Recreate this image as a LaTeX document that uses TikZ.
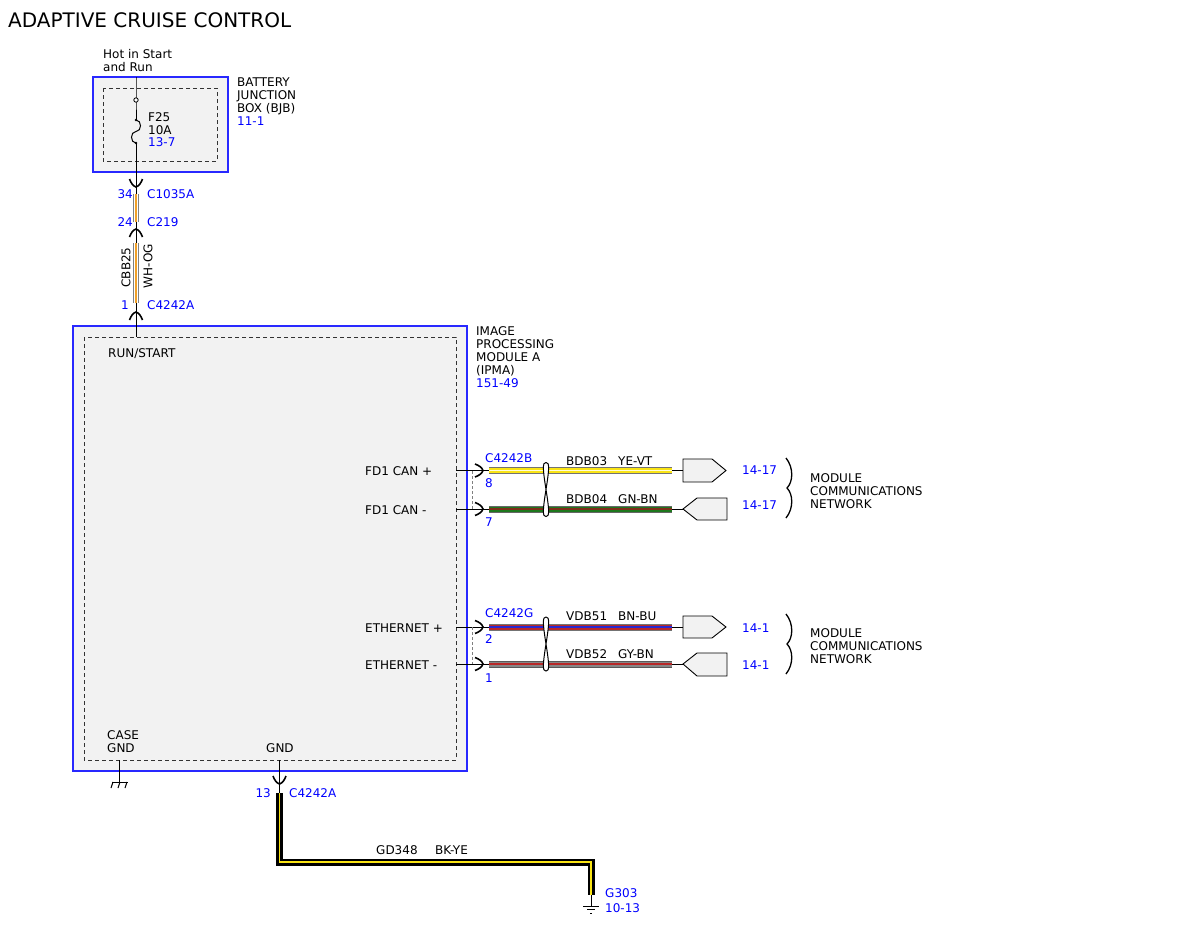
\documentclass[tikz,border=0pt]{standalone}
\usepackage{fontspec}
\setmainfont{DejaVu Sans}
\definecolor{pinblue}{RGB}{0,0,255}
\definecolor{boxblue}{RGB}{40,40,255}
\definecolor{boxfill}{RGB}{242,242,242}
\definecolor{wyellow}{RGB}{250,228,20}
\definecolor{wgreen}{RGB}{30,120,30}
\definecolor{wbrown}{RGB}{125,45,25}
\definecolor{wred}{RGB}{185,40,40}
\definecolor{wblue}{RGB}{40,40,210}
\definecolor{wgray}{RGB}{135,135,135}
\definecolor{worange}{RGB}{240,160,40}
\tikzset{
 modbox/.style={draw=boxblue,line width=1.2pt,fill=boxfill},
 inbox/.style={draw=black!80,line width=1pt,dash pattern=on 4pt off 3pt},
 lbl/.style={anchor=north west,inner sep=0pt,align=left},
 txt/.style={anchor=base west,inner sep=0pt},
 pin/.style={anchor=base west,inner sep=0pt,text=pinblue},
 wire/.style n args={3}{preaction={draw=#1,line width=7pt},draw=#2,line width=5pt,postaction={draw=#3,line width=1.8pt}},
 thinwire/.style n args={3}{preaction={draw=#1,line width=6pt},draw=#2,line width=4.4pt,postaction={draw=#3,line width=1.6pt}},
 conn/.style={draw=black,line width=0.9pt,fill=boxfill},
 pinfork/.pic={\draw[line width=1.6pt] (-8,-6.5) .. controls (-4,-5) and (-1,-3) .. (0,0) .. controls (-1,3) and (-4,5) .. (-8,6.5);},
 twist/.pic={\draw[line width=1pt,fill=white] (0,-27) .. controls (3.5,-27) and (3.5,-22) .. (0,0) .. controls (-3.5,22) and (-3.5,27) .. (0,27) .. controls (3.5,27) and (3.5,22) .. (0,0) .. controls (-3.5,-22) and (-3.5,-27) .. (0,-27);},
}
\begin{document}
\begin{tikzpicture}[x=1pt,y=-1pt,font=\fontsize{12}{13}\selectfont]
 \useasboundingbox (0,0) rectangle (1200,927);
 \node[txt,font=\fontsize{20}{24}\selectfont] (title) at (8,27) {ADAPTIVE CRUISE CONTROL};

 % battery junction box
 \draw[modbox] (93,77) rectangle (228,172);
 \draw[inbox] (103,88) rectangle (217,161);
 \node[lbl] (hot) at (103,49) {Hot in Start\\and Run};
 \node[lbl] (bjb) at (237,77.5) {BATTERY\\JUNCTION\\BOX (BJB)\\\textcolor{pinblue}{11-1}};
 \node[lbl,font=\fontsize{12}{12.5}\selectfont] (f25) at (148,112.5) {F25\\10A\\\textcolor{pinblue}{13-7}};
 \coordinate (bjbin) at (136,77);
 \coordinate (fusea) at (136,100);
 \coordinate (fuseb) at (136,120);
 \coordinate (fusec) at (136,143);
 \draw[line width=1pt] (bjbin) -- (fusea) -- (fuseb);
 \draw[line width=1pt] (fuseb) .. controls (142,120) and (142,131.5) .. (136,131.5) .. controls (130,131.5) and (130,143) .. (fusec);
 \draw[line width=0.8pt,fill=white] (fusea) circle (2.2);
 \fill (fuseb) circle (1.3);
 \fill (fusec) circle (1.3);

 % IPMA module
 \draw[modbox] (73,326) rectangle (467,771);
 \draw[inbox] (84,337) rectangle (456,760);
 \node[lbl] (ipma) at (476,326.5) {IMAGE\\PROCESSING\\MODULE A\\(IPMA)\\\textcolor{pinblue}{151-49}};
 \node[txt] (runstart) at (108,357) {RUN/START};
 \node[lbl] (casegnd) at (107,730) {CASE\\GND};
 \node[txt] (gnd) at (266,752) {GND};

 % feed from BJB
 \coordinate (runpin) at (136,337);
 \draw[line width=1pt] (fusec) -- (runpin);
 \coordinate (w1a) at (136,194);
 \coordinate (w1b) at (136,222);
 \coordinate (w2a) at (136,243);
 \coordinate (w2b) at (136,303);
 \draw[thinwire={gray}{white}{worange}] (w1a) -- (w1b);
 \draw[thinwire={gray}{white}{worange}] (w2a) -- (w2b);
 \pic[rotate=-90] at (136,187) {pinfork};
 \pic[rotate=90] at (136,229) {pinfork};
 \pic[rotate=90] at (136,312) {pinfork};
 \node[anchor=base east,inner sep=0pt,text=pinblue] (p34) at (133,198) {34};
 \node[pin] (c1035a) at (147,198) {C1035A};
 \node[anchor=base east,inner sep=0pt,text=pinblue] (p24) at (133,226) {24};
 \node[pin] (c219) at (147,226) {C219};
 \node[anchor=base east,inner sep=0pt,text=pinblue] (p1a) at (129,309) {1};
 \node[pin] (c4242a) at (147,309) {C4242A};
 \node[rotate=90,inner sep=0pt] (cbb25) at (126,267.5) {CBB25};
 \node[rotate=90,inner sep=0pt] (whog) at (148,266) {WH-OG};

 % FD1 CAN
 \node[txt] (canp) at (365,475) {FD1 CAN +};
 \node[txt] (canm) at (365,514) {FD1 CAN -};
 \coordinate (canpi) at (456,470.5);
 \coordinate (canpa) at (489,470.5);
 \coordinate (canpb) at (672,470.5);
 \coordinate (canmi) at (456,509);
 \coordinate (canma) at (489,509);
 \coordinate (canmb) at (672,509);
 \draw[line width=1pt] (canpi) -- (canpa);
 \draw[line width=1pt] (canmi) -- (canma);
 \draw[gray,line width=0.8pt,dash pattern=on 3pt off 2pt] (472,471) -- (472,509);
 \draw[wire={black!55}{wyellow}{yellow!15}] (canpa) -- (canpb);
 \draw[wire={black!60}{wgreen}{wbrown}] (canma) -- (canmb);
 \pic at (483,470.5) {pinfork};
 \pic at (483,509) {pinfork};
 \pic at (546,489.5) {twist};
 \draw[conn] (683,459) -- (712,459) -- (726,470.5) -- (712,482) -- (683,482) -- cycle;
 \draw[conn] (683,509) -- (697,498) -- (727,498) -- (727,520) -- (697,520) -- cycle;
 \draw[line width=1pt] (canpb) -- (683,470.5);
 \draw[line width=1pt] (canmb) -- (683,509);
 \node[pin] (c4242b) at (485,462) {C4242B};
 \node[pin] (p8) at (485,487) {8};
 \node[pin] (p7) at (485,526) {7};
 \node[txt] (bdb03) at (566,465) {BDB03};
 \node[txt] (yevt) at (618,465) {YE-VT};
 \node[txt] (bdb04) at (566,503) {BDB04};
 \node[txt] (gnbn) at (618,503) {GN-BN};
 \node[pin] (ref1) at (742,474) {14-17};
 \node[pin] (ref2) at (742,509) {14-17};
 \draw[line width=1.3pt] (786,458) .. controls (794,468) and (793,482) .. (787,488) .. controls (793,494) and (794,508) .. (786,518);
 \node[lbl] (mcn1) at (810,473) {MODULE\\COMMUNICATIONS\\NETWORK};

 % ethernet
 \node[txt] (ethp) at (365,632) {ETHERNET +};
 \node[txt] (ethm) at (365,669) {ETHERNET -};
 \coordinate (ethpi) at (456,627);
 \coordinate (ethpa) at (489,627);
 \coordinate (ethpb) at (672,627);
 \coordinate (ethmi) at (456,664);
 \coordinate (ethma) at (489,664);
 \coordinate (ethmb) at (672,664);
 \draw[line width=1pt] (ethpi) -- (ethpa);
 \draw[line width=1pt] (ethmi) -- (ethma);
 \draw[gray,line width=0.8pt,dash pattern=on 3pt off 2pt] (472,627) -- (472,664);
 \draw[wire={black!55}{wred}{wblue}] (ethpa) -- (ethpb);
 \draw[wire={black!65}{wgray}{wred}] (ethma) -- (ethmb);
 \pic at (483,627) {pinfork};
 \pic at (483,664) {pinfork};
 \pic at (546,644) {twist};
 \draw[conn] (683,616) -- (712,616) -- (726,627) -- (712,638) -- (683,638) -- cycle;
 \draw[conn] (683,664) -- (697,653) -- (727,653) -- (727,676) -- (697,676) -- cycle;
 \draw[line width=1pt] (ethpb) -- (683,627);
 \draw[line width=1pt] (ethmb) -- (683,664);
 \node[pin] (c4242g) at (485,617) {C4242G};
 \node[pin] (p2) at (485,643) {2};
 \node[pin] (p1b) at (485,682) {1};
 \node[txt] (vdb51) at (566,620) {VDB51};
 \node[txt] (bnbu) at (618,620) {BN-BU};
 \node[txt] (vdb52) at (566,658) {VDB52};
 \node[txt] (gybn) at (618,658) {GY-BN};
 \node[pin] (ref3) at (742,632) {14-1};
 \node[pin] (ref4) at (742,669) {14-1};
 \draw[line width=1.3pt] (786,614) .. controls (794,624) and (793,638) .. (787,644) .. controls (793,650) and (794,664) .. (786,674);
 \node[lbl] (mcn2) at (810,628) {MODULE\\COMMUNICATIONS\\NETWORK};

 % case ground
 \coordinate (casepin) at (119,760);
 \coordinate (chassis) at (119,782);
 \draw[line width=1pt] (casepin) -- (chassis);
 \draw[line width=1pt] (112,782) -- (128,782);
 \draw[line width=1pt] (113,782) -- (111,788);
 \draw[line width=1pt] (120,782) -- (118,788);
 \draw[line width=1pt] (127,782) -- (125,788);

 % ground G303
 \coordinate (gndpin) at (279.5,760);
 \coordinate (gnda) at (279.5,793);
 \coordinate (gndb) at (591,895);
 \coordinate (g303) at (591,906);
 \draw[line width=1pt] (gndpin) -- (gnda);
 \pic[rotate=-90] at (279.5,784) {pinfork};
 \draw[wire={black}{black}{wyellow}] (gnda) |- (591,862) -- (gndb);
 \draw[line width=1pt] (gndb) -- (g303);
 \draw[line width=1pt] (583,906) -- (599,906);
 \draw[line width=1pt] (587,909.5) -- (595,909.5);
 \draw[line width=1pt] (590,913) -- (592,913);
 \node[anchor=base east,inner sep=0pt,text=pinblue] (p13) at (271,797) {13};
 \node[pin] (c4242a2) at (289,797) {C4242A};
 \node[txt] (gd348) at (376,854) {GD348};
 \node[txt] (bkye) at (435,854) {BK-YE};
 \node[pin] (g303lbl) at (605,897) {G303};
 \node[pin] (g303ref) at (605,912) {10-13};
\end{tikzpicture}
\end{document}
